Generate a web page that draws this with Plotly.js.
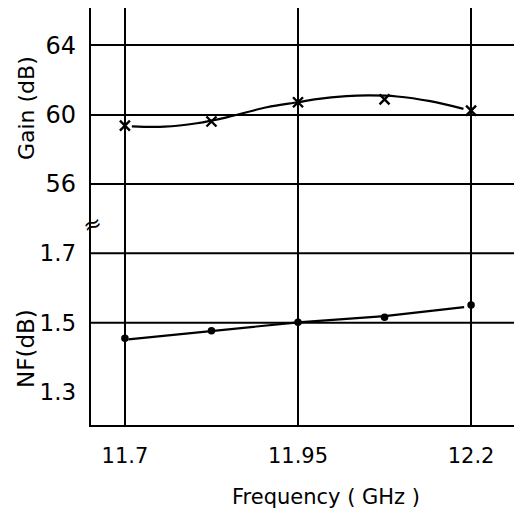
<!DOCTYPE html>
<html>
<head>
<meta charset="utf-8">
<script src="https://cdn.plot.ly/plotly-3.0.1.min.js"></script>
<style>html,body{margin:0;padding:0;background:#fff;}#chart{width:514px;height:513px;}</style>
</head>
<body>
<div id="chart"></div>
<script>
// Frequency ticks (GHz)
const freqTicks = [11.7, 11.95, 12.2];
const freqTickText = ["11.7", "11.95", "12.2"];

// Measured points
const freq = [11.7, 11.825, 11.95, 12.075, 12.2];
const gain = [59.36, 59.6, 60.71, 60.87, 60.23];
const nf = [1.455, 1.477, 1.501, 1.516, 1.551];

// Hand-drawn fitted gain curve
const gainFitX = [11.71, 11.757, 11.804, 11.847, 11.905, 11.95, 11.974, 12.02, 12.054, 12.093, 12.141, 12.189];
const gainFitY = [59.32, 59.30, 59.50, 59.84, 60.42, 60.71, 60.87, 61.06, 61.10, 61.04, 60.77, 60.33];

// Fitted NF line
const nfFitX = [11.705, 11.825, 11.95, 12.075, 12.19];
const nfFitY = [1.452, 1.477, 1.501, 1.519, 1.545];

// Axis ticks
const gainTicks = [56, 60, 64];
const nfTicks = [1.3, 1.5, 1.7];
const nfGrid = [1.5, 1.7];

const font = {family: "DejaVu Sans, sans-serif", color: "#000"};

const traces = [
  {x: gainFitX, y: gainFitY, mode: "lines", line: {color: "#000", width: 2.2, shape: "spline"}, xaxis: "x", yaxis: "y", hoverinfo: "skip"},
  {x: freq, y: gain, mode: "markers", marker: {symbol: "x-thin-open", size: 10, color: "#000", line: {color: "#000", width: 2.4}}, xaxis: "x", yaxis: "y"},
  {x: nfFitX, y: nfFitY, mode: "lines", line: {color: "#000", width: 2.2}, xaxis: "x", yaxis: "y2", hoverinfo: "skip"},
  {x: freq, y: nf, mode: "markers", marker: {symbol: "circle", size: 7.5, color: "#000"}, xaxis: "x", yaxis: "y2"}
];

const shapes = nfGrid.map(v => ({type: "line", xref: "paper", x0: 0, x1: 1, yref: "y2", y0: v, y1: v, line: {color: "#000", width: 2}, layer: "below"}));

const layout = {
  width: 514, height: 513,
  margin: {l: 91, r: 0, t: 8, b: 88},
  paper_bgcolor: "#fff", plot_bgcolor: "#fff",
  showlegend: false,
  font: Object.assign({size: 21}, font),
  xaxis: {
    range: [11.651, 12.262], anchor: "y2",
    tickvals: freqTicks, ticktext: freqTickText,
    showgrid: true, gridcolor: "#000", gridwidth: 2.2,
    zeroline: false, showline: true, linecolor: "#000", linewidth: 2.2,
    ticks: "", ticklabelstandoff: 11,
    tickfont: Object.assign({size: 21}, font)
  },
  yaxis: {
    domain: [0.4964, 1], range: [54.04, 66.14], anchor: "x",
    tickvals: gainTicks, ticktext: gainTicks.map(String),
    showgrid: true, gridcolor: "#000", gridwidth: 2,
    zeroline: false, showline: true, linecolor: "#000", linewidth: 2.2,
    ticks: "", ticklabelstandoff: 8,
    tickfont: Object.assign({size: 24}, font)
  },
  yaxis2: {
    domain: [0, 0.4964], range: [1.2052, 1.8017], anchor: "x",
    tickvals: nfTicks, ticktext: nfTicks.map(v => v.toFixed(1)),
    showgrid: false,
    zeroline: false, showline: true, linecolor: "#000", linewidth: 2.2,
    ticks: "", ticklabelstandoff: 8,
    tickfont: Object.assign({size: 23}, font)
  },
  shapes: shapes,
  annotations: [
    {text: "Gain (dB)", xref: "paper", yref: "paper", x: -0.1537, y: 0.760, showarrow: false, textangle: -90, font: Object.assign({size: 22}, font), xanchor: "center", yanchor: "middle"},
    {text: "NF(dB)", xref: "paper", yref: "paper", x: -0.1537, y: 0.1847, showarrow: false, textangle: -90, font: Object.assign({size: 23}, font), xanchor: "center", yanchor: "middle"},
    {text: "Frequency ( GHz )", xref: "paper", yref: "paper", x: 0.5556, y: -0.1727, showarrow: false, font: Object.assign({size: 21}, font), xanchor: "center", yanchor: "middle"},
    {text: "≈", xref: "paper", yref: "paper", x: 0.0024, y: 0.482, showarrow: false, font: Object.assign({size: 22}, font), xanchor: "center", yanchor: "middle", textangle: -20}
  ]
};

Plotly.newPlot("chart", traces, layout, {staticPlot: true, displayModeBar: false});
</script>
</body>
</html>
